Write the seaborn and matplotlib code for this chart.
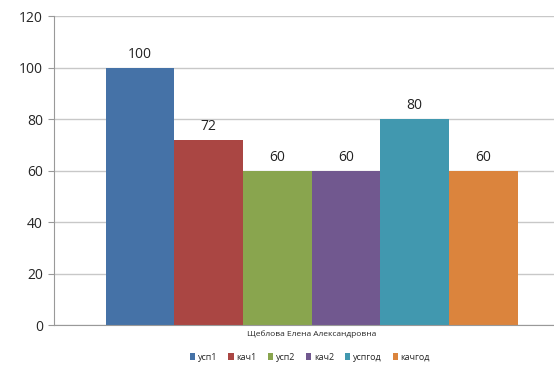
import pandas as pd
import matplotlib
matplotlib.use("Agg")
import matplotlib.pyplot as plt
import seaborn as sns

# ------------------------------
# Data
# ------------------------------
person = "Щеблова Елена Александровна"
series = ["усп1", "кач1", "усп2", "кач2", "успгод", "качгод"]
values = [100, 72, 60, 60, 80, 60]
colors = ["#4572A7", "#AA4643", "#89A54E", "#71588F", "#4198AF", "#DB843D"]

df = pd.DataFrame({"name": [person] * len(series), "series": series, "value": values})

# ------------------------------
# Plot
# ------------------------------
sns.set_style("white")
plt.rcParams["font.family"] = ["Open Sans", "DejaVu Sans"]

fig = plt.figure(figsize=(5.54, 3.67), dpi=100)
ax = fig.add_axes([0.0975, 0.1144, 0.93, 0.842])

sns.barplot(data=df, x="name", y="value", hue="series", palette=colors,
            width=0.8, gap=0, saturation=1, linewidth=0, ax=ax, legend=True)

for cont in ax.containers:
    ax.bar_label(cont, fmt="%d", padding=4, fontsize=10, color="#222222")

ax.set_ylim(0, 120)
ax.set_yticks(range(0, 121, 20))
ax.yaxis.grid(True, color="#c8c8c8", linewidth=1)
ax.set_axisbelow(True)
ax.tick_params(axis="y", labelsize=10, length=4, color="#999999", left=True, pad=4)
ax.tick_params(axis="x", labelsize=6, length=0, pad=4)
ax.set_xlabel("")
ax.set_ylabel("")

for s in ["top", "right"]:
    ax.spines[s].set_visible(False)
ax.spines["left"].set_color("#999999")
ax.spines["bottom"].set_color("#999999")

ax.legend(loc="center", bbox_to_anchor=(310 / 554, 10 / 367), bbox_transform=fig.transFigure,
          ncol=6, frameon=False, fontsize=6.5, handlelength=0.6, handleheight=0.9,
          handletextpad=0.3, columnspacing=1.2)

fig.savefig("out.png", dpi=100)
